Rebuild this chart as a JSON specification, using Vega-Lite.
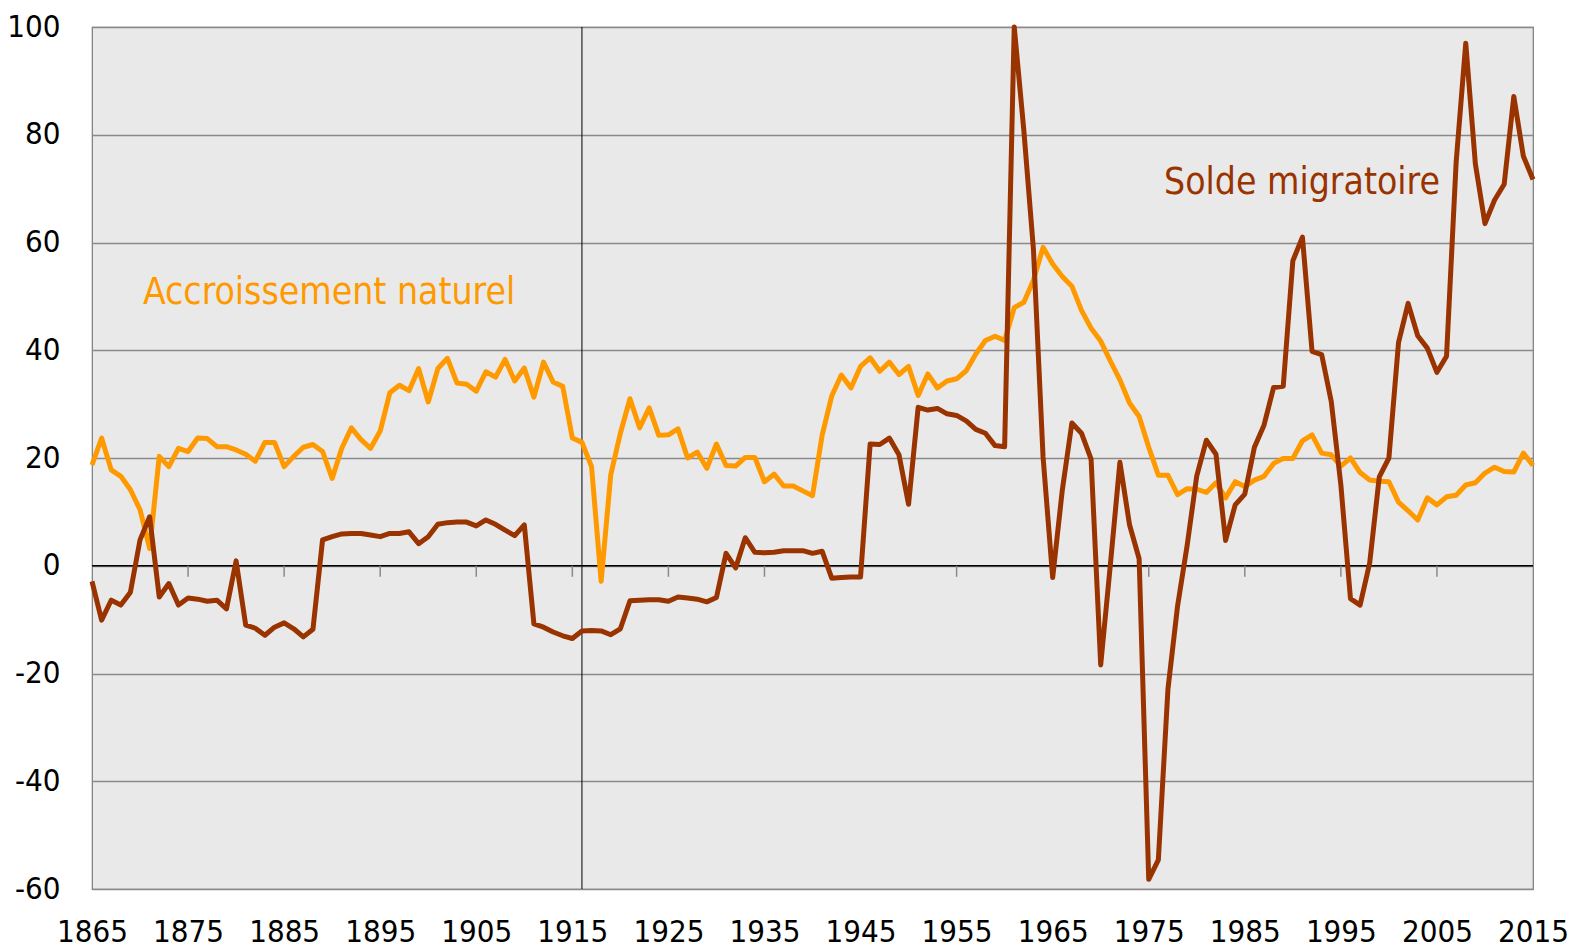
{
  "$schema": "https://vega.github.io/schema/vega-lite/v6.json",
  "width": 1441,
  "height": 862,
  "autosize": {"type": "none"},
  "padding": {"left": 92, "top": 27, "right": 40, "bottom": 60},
  "background": "white",
  "config": {
    "view": {"fill": "#e9e9e9", "stroke": "#7a7a7a", "strokeWidth": 1.2},
    "font": "DejaVu Sans Condensed"
  },
  "datasets": {
    "main": [
      {"year":1865,"n":18.7,"m":-2.9},{"year":1866,"n":23.7,"m":-10.1},{"year":1867,"n":17.8,"m":-6.4},{"year":1868,"n":16.6,"m":-7.3},{"year":1869,"n":14.1,"m":-4.9},
      {"year":1870,"n":10.4,"m":4.8},{"year":1871,"n":3.2,"m":9.1},{"year":1872,"n":20.3,"m":-5.8},{"year":1873,"n":18.4,"m":-3.3},{"year":1874,"n":21.8,"m":-7.3},
      {"year":1875,"n":21.2,"m":-6.0},{"year":1876,"n":23.7,"m":-6.2},{"year":1877,"n":23.6,"m":-6.6},{"year":1878,"n":22.1,"m":-6.4},{"year":1879,"n":22.1,"m":-8.0},
      {"year":1880,"n":21.5,"m":0.9},{"year":1881,"n":20.7,"m":-11.0},{"year":1882,"n":19.4,"m":-11.6},{"year":1883,"n":22.9,"m":-12.9},{"year":1884,"n":22.9,"m":-11.4},
      {"year":1885,"n":18.4,"m":-10.6},{"year":1886,"n":20.3,"m":-11.7},{"year":1887,"n":22.0,"m":-13.2},{"year":1888,"n":22.5,"m":-11.8},{"year":1889,"n":21.2,"m":4.8},
      {"year":1890,"n":16.2,"m":5.4},{"year":1891,"n":21.8,"m":5.9},{"year":1892,"n":25.6,"m":6.0},{"year":1893,"n":23.4,"m":6.0},{"year":1894,"n":21.8,"m":5.7},
      {"year":1895,"n":25.0,"m":5.4},{"year":1896,"n":32.1,"m":6.0},{"year":1897,"n":33.5,"m":6.0},{"year":1898,"n":32.5,"m":6.3},{"year":1899,"n":36.6,"m":4.1},
      {"year":1900,"n":30.4,"m":5.4},{"year":1901,"n":36.6,"m":7.7},{"year":1902,"n":38.5,"m":8.0},{"year":1903,"n":33.9,"m":8.1},{"year":1904,"n":33.7,"m":8.1},
      {"year":1905,"n":32.4,"m":7.4},{"year":1906,"n":36.0,"m":8.5},{"year":1907,"n":35.0,"m":7.7},{"year":1908,"n":38.3,"m":6.6},{"year":1909,"n":34.3,"m":5.6},
      {"year":1910,"n":36.7,"m":7.6},{"year":1911,"n":31.3,"m":-10.8},{"year":1912,"n":37.8,"m":-11.4},{"year":1913,"n":34.1,"m":-12.3},{"year":1914,"n":33.3,"m":-13.0},
      {"year":1915,"n":23.7,"m":-13.5},{"year":1916,"n":22.9,"m":-12.1},{"year":1917,"n":18.4,"m":-12.0},{"year":1918,"n":-2.9,"m":-12.1},{"year":1919,"n":16.9,"m":-12.8},
      {"year":1920,"n":24.6,"m":-11.7},{"year":1921,"n":31.0,"m":-6.5},{"year":1922,"n":25.6,"m":-6.4},{"year":1923,"n":29.3,"m":-6.3},{"year":1924,"n":24.2,"m":-6.3},
      {"year":1925,"n":24.3,"m":-6.6},{"year":1926,"n":25.4,"m":-5.8},{"year":1927,"n":20.0,"m":-6.0},{"year":1928,"n":21.1,"m":-6.2},{"year":1929,"n":18.1,"m":-6.7},
      {"year":1930,"n":22.6,"m":-5.9},{"year":1931,"n":18.6,"m":2.3},{"year":1932,"n":18.5,"m":-0.4},{"year":1933,"n":20.1,"m":5.2},{"year":1934,"n":20.1,"m":2.5},
      {"year":1935,"n":15.6,"m":2.4},{"year":1936,"n":17.0,"m":2.5},{"year":1937,"n":14.8,"m":2.8},{"year":1938,"n":14.8,"m":2.8},{"year":1939,"n":13.9,"m":2.8},
      {"year":1940,"n":13.0,"m":2.3},{"year":1941,"n":24.2,"m":2.7},{"year":1942,"n":31.5,"m":-2.3},{"year":1943,"n":35.4,"m":-2.2},{"year":1944,"n":33.0,"m":-2.1},
      {"year":1945,"n":37.0,"m":-2.1},{"year":1946,"n":38.6,"m":22.6},{"year":1947,"n":36.1,"m":22.5},{"year":1948,"n":37.8,"m":23.7},{"year":1949,"n":35.5,"m":20.6},
      {"year":1950,"n":37.0,"m":11.4},{"year":1951,"n":31.6,"m":29.4},{"year":1952,"n":35.6,"m":28.9},{"year":1953,"n":33.0,"m":29.2},{"year":1954,"n":34.3,"m":28.2},
      {"year":1955,"n":34.7,"m":27.9},{"year":1956,"n":36.2,"m":26.9},{"year":1957,"n":39.3,"m":25.3},{"year":1958,"n":41.8,"m":24.6},{"year":1959,"n":42.6,"m":22.3},
      {"year":1960,"n":41.8,"m":22.1},{"year":1961,"n":47.9,"m":100.0},{"year":1962,"n":48.9,"m":80.8},{"year":1963,"n":53.0,"m":58.7},{"year":1964,"n":59.1,"m":20.2},
      {"year":1965,"n":56.0,"m":-2.2},{"year":1966,"n":53.7,"m":14.0},{"year":1967,"n":51.9,"m":26.5},{"year":1968,"n":47.4,"m":24.6},{"year":1969,"n":44.1,"m":19.8},
      {"year":1970,"n":41.7,"m":-18.4},{"year":1971,"n":38.0,"m":0.1},{"year":1972,"n":34.5,"m":19.2},{"year":1973,"n":30.2,"m":7.6},{"year":1974,"n":27.7,"m":1.3},
      {"year":1975,"n":22.0,"m":-58.2},{"year":1976,"n":16.8,"m":-54.6},{"year":1977,"n":16.8,"m":-22.9},{"year":1978,"n":13.2,"m":-7.5},{"year":1979,"n":14.3,"m":3.8},
      {"year":1980,"n":14.2,"m":16.7},{"year":1981,"n":13.6,"m":23.3},{"year":1982,"n":15.4,"m":20.7},{"year":1983,"n":12.6,"m":4.7},{"year":1984,"n":15.6,"m":11.3},
      {"year":1985,"n":14.7,"m":13.3},{"year":1986,"n":15.9,"m":22.0},{"year":1987,"n":16.6,"m":26.1},{"year":1988,"n":19.0,"m":33.1},{"year":1989,"n":19.9,"m":33.3},
      {"year":1990,"n":19.9,"m":56.6},{"year":1991,"n":23.2,"m":61.0},{"year":1992,"n":24.3,"m":39.8},{"year":1993,"n":20.9,"m":39.2},{"year":1994,"n":20.6,"m":30.5},
      {"year":1995,"n":18.5,"m":15.0},{"year":1996,"n":20.0,"m":-6.1},{"year":1997,"n":17.3,"m":-7.3},{"year":1998,"n":15.9,"m":0.5},{"year":1999,"n":15.7,"m":16.5},
      {"year":2000,"n":15.6,"m":20.0},{"year":2001,"n":11.8,"m":41.4},{"year":2002,"n":10.2,"m":48.7},{"year":2003,"n":8.5,"m":42.7},{"year":2004,"n":12.6,"m":40.4},
      {"year":2005,"n":11.3,"m":35.9},{"year":2006,"n":12.8,"m":38.9},{"year":2007,"n":13.1,"m":74.9},{"year":2008,"n":15.0,"m":97.0},{"year":2009,"n":15.4,"m":74.6},
      {"year":2010,"n":17.2,"m":63.5},{"year":2011,"n":18.3,"m":67.9},{"year":2012,"n":17.5,"m":70.8},{"year":2013,"n":17.4,"m":87.1},{"year":2014,"n":20.9,"m":76.0},
      {"year":2015,"n":18.6,"m":71.7}
    ],
    "ticks": [
      {"year":1875},{"year":1885},{"year":1895},{"year":1905},{"year":1915},{"year":1925},{"year":1935},
      {"year":1945},{"year":1955},{"year":1965},{"year":1975},{"year":1985},{"year":1995},{"year":2005}
    ],
    "labels": [
      {"year":1870.3,"value":48.6,"text":"Accroissement naturel","serie":"Accroissement naturel"},
      {"year":1976.6,"value":69.0,"text":"Solde migratoire","serie":"Solde migratoire"}
    ]
  },
  "layer": [
    {
      "data": {"values": [{}]},
      "mark": {"type": "rule", "color": "black", "strokeWidth": 1},
      "encoding": {
        "x": {"datum": 1916, "type": "quantitative",
          "scale": {"domain": [1865, 2015], "nice": false, "zero": false},
          "axis": {"values": [1865,1875,1885,1895,1905,1915,1925,1935,1945,1955,1965,1975,1985,1995,2005,2015], "labelExpr": "'' + datum.value", "ticks": false, "domain": false, "grid": false, "labelFontSize": 31, "labelFont": "DejaVu Sans Condensed, Liberation Sans, sans-serif", "labelColor": "black", "labelPadding": 28, "labelFlush": false, "labelOverlap": false, "title": null}}
      }
    },
    {
      "data": {"values": [{}]},
      "mark": {"type": "rule", "color": "black", "strokeWidth": 1.5},
      "encoding": {
        "y": {"datum": 0, "type": "quantitative",
          "scale": {"domain": [-60, 100], "nice": false, "zero": false},
          "axis": {"values": [-60,-40,-20,0,20,40,60,80,100], "labelExpr": "'' + datum.value", "grid": true, "gridColor": "#8a8a8a", "gridWidth": 1.3, "ticks": false, "domain": false, "labelFontSize": 31, "labelFont": "DejaVu Sans Condensed, Liberation Sans, sans-serif", "labelColor": "black", "labelPadding": 32, "title": null}}
      }
    },
    {
      "data": {"name": "ticks"},
      "mark": {"type": "rule", "color": "#8a8a8a", "strokeWidth": 1.5},
      "encoding": {
        "x": {"field": "year", "type": "quantitative", "scale": {"domain": [1865, 2015], "nice": false, "zero": false}},
        "y": {"datum": 0, "type": "quantitative", "scale": {"domain": [-60, 100], "nice": false, "zero": false}},
        "y2": {"datum": -2.05}
      }
    },
    {
      "data": {"name": "main"},
      "mark": {"type": "line", "color": "#FF9900", "strokeWidth": 5, "strokeJoin": "round"},
      "encoding": {
        "x": {"field": "year", "type": "quantitative", "scale": {"domain": [1865, 2015], "nice": false, "zero": false}},
        "y": {"field": "n", "type": "quantitative", "scale": {"domain": [-60, 100], "nice": false, "zero": false}}
      }
    },
    {
      "data": {"name": "main"},
      "mark": {"type": "line", "color": "#993300", "strokeWidth": 5, "strokeJoin": "round"},
      "encoding": {
        "x": {"field": "year", "type": "quantitative", "scale": {"domain": [1865, 2015], "nice": false, "zero": false}},
        "y": {"field": "m", "type": "quantitative", "scale": {"domain": [-60, 100], "nice": false, "zero": false}}
      }
    },
    {
      "data": {"name": "labels"},
      "mark": {"type": "text", "align": "left", "baseline": "alphabetic", "fontSize": 37, "font": "DejaVu Sans Condensed, Liberation Sans, sans-serif"},
      "encoding": {
        "x": {"field": "year", "type": "quantitative", "scale": {"domain": [1865, 2015], "nice": false, "zero": false}},
        "y": {"field": "value", "type": "quantitative", "scale": {"domain": [-60, 100], "nice": false, "zero": false}},
        "text": {"field": "text"},
        "color": {"field": "serie", "type": "nominal", "scale": {"domain": ["Accroissement naturel", "Solde migratoire"], "range": ["#FF9900", "#993300"]}, "legend": null}
      }
    }
  ]
}
